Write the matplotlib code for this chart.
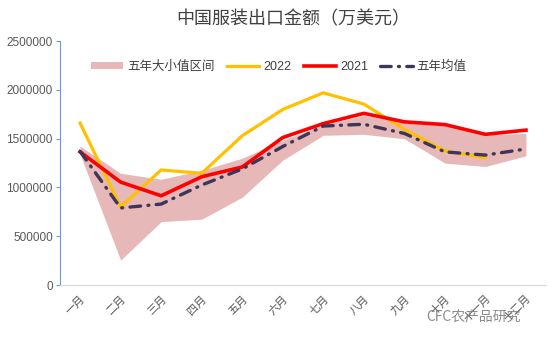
import matplotlib.pyplot as plt
from matplotlib.patches import Patch
from matplotlib.lines import Line2D
from matplotlib.ticker import FuncFormatter

plt.rcParams['font.family'] = ['Noto Sans CJK SC', 'DejaVu Sans']

months = ["一月", "二月", "三月", "四月", "五月", "六月",
          "七月", "八月", "九月", "十月", "十一月", "十二月"]

# 万美元
band_high = [1425000, 1145000, 1085000, 1175000, 1300000, 1485000,
             1640000, 1740000, 1665000, 1640000, 1540000, 1555000]
band_low = [1340000, 255000, 650000, 675000, 900000, 1280000,
            1535000, 1545000, 1500000, 1250000, 1215000, 1325000]
y2022 = [1660000, 800000, 1180000, 1145000, 1530000, 1800000,
         1970000, 1855000, 1595000, 1375000, 1305000]
y2021 = [1365000, 1055000, 915000, 1110000, 1210000, 1512000,
         1655000, 1760000, 1673000, 1645000, 1545000, 1588000]
avg5 = [1370000, 790000, 830000, 1025000, 1190000, 1420000,
        1630000, 1648000, 1554000, 1365000, 1332000, 1395000]

band_color = "#E6B9B8"
c2022 = "#FFC000"
c2021 = "#FF0000"
cavg = "#3F3558"
avg_dashes = (3.2, 2.2, 0.3, 2.2)

fig = plt.figure(figsize=(5.54, 3.43), dpi=100)
ax = fig.add_axes([0.108, 0.169, 0.878, 0.711])

x = list(range(len(months)))
ax.fill_between(x, band_low, band_high, color=band_color, linewidth=0, zorder=1)
ax.plot(x[:len(y2022)], y2022, color=c2022, lw=2.3, zorder=2)
ax.plot(x, y2021, color=c2021, lw=2.6, zorder=3)
ax.plot(x, avg5, color=cavg, lw=2.4, dashes=avg_dashes,
        dash_capstyle="round", zorder=4)

ax.set_xlim(-0.5, 11.5)
ax.set_ylim(0, 2500000)
ax.set_yticks(range(0, 2500001, 500000))
ax.yaxis.set_major_formatter(FuncFormatter(lambda v, p: f"{int(v)}"))
ax.set_xticks(x)
ax.set_xticklabels(months, rotation=45, ha="right", rotation_mode="anchor")
for t in ax.get_yticklabels():
    t.set_family(["Liberation Sans", "DejaVu Sans"])

for s in ["top", "right"]:
    ax.spines[s].set_visible(False)
ax.spines["left"].set_color("#6A9BD6")
ax.spines["bottom"].set_color("#D9D9D9")
ax.tick_params(axis="y", colors="#6A9BD6", labelcolor="#595959",
               labelsize=8.5, length=3, pad=2)
ax.tick_params(axis="x", length=0, labelcolor="#595959", labelsize=8, pad=6)

fig.text(0.53, 0.945, "中国服装出口金额（万美元）", ha="center", va="center",
         fontsize=13, color="#404040")

handles = [
    Patch(facecolor=band_color, edgecolor="none"),
    Line2D([], [], color=c2022, lw=2.3),
    Line2D([], [], color=c2021, lw=2.6),
    Line2D([], [], color=cavg, lw=2.4, dashes=avg_dashes,
           dash_capstyle="round"),
]
labels = ["五年大小值区间", "2022", "2021", "五年均值"]
leg = ax.legend(handles, labels, loc="center", bbox_to_anchor=(0.45, 0.895),
                ncol=4, frameon=False, fontsize=9, handlelength=2.6,
                handletextpad=0.3, columnspacing=1.0, handleheight=0.5)
for t in leg.get_texts():
    t.set_color("#404040")
    if t.get_text().isdigit():
        t.set_family(["Liberation Sans", "DejaVu Sans"])

fig.text(0.77, 0.075, "CFC农产品研究", ha="left", va="center",
         fontsize=10, color="#7F7F7F", alpha=0.9)

fig.savefig("out.png", dpi=100)
